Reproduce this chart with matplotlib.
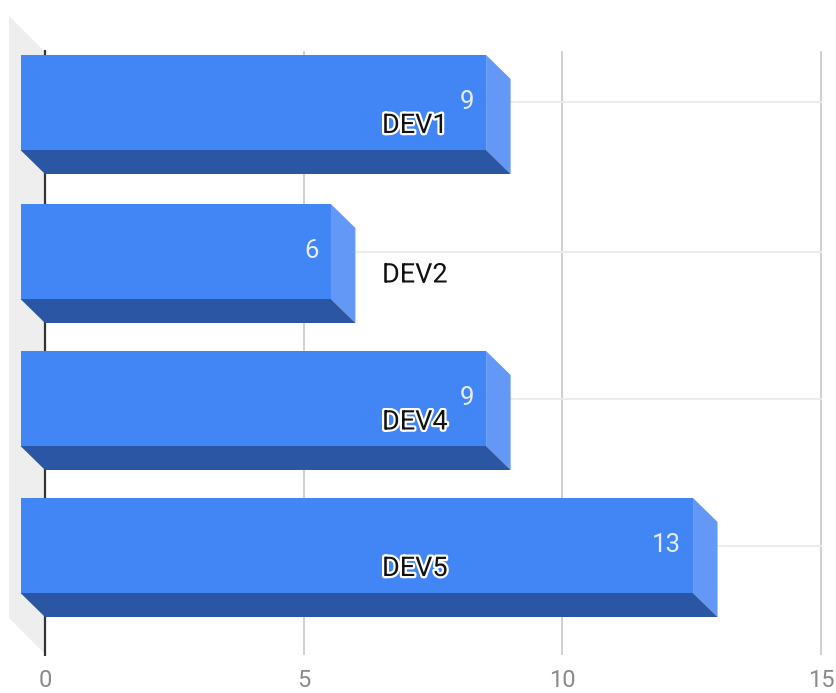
import matplotlib
matplotlib.use("Agg")
import matplotlib.pyplot as plt
import matplotlib.patheffects as pe
from matplotlib.patches import Polygon

categories = ["DEV1", "DEV2", "DEV4", "DEV5"]
values = [9, 6, 9, 13]
xticks = [0, 5, 10, 15]

# layout in pixels (y) -- top edge of each bar's front face
W, H = 837, 693
front_top = [55, 204, 351, 498]
grid_y = [102, 252, 399, 546]
label_y = [125.5, 275, 422, 568.5]
x0_px, x15_px = 45, 821
scale = (x15_px - x0_px) / 15
face_h = 95
dx = 24.5 / scale
dy = 24

plt.rcParams["font.family"] = ["Roboto", "DejaVu Sans"]
fig = plt.figure(figsize=(W / 100, H / 100), dpi=100, facecolor="white")
ax = fig.add_axes([0, 0, 1, 1])
ax.set_xlim(-x0_px / scale, (W - x0_px) / scale)
ax.set_ylim(H, 0)
ax.axis("off")

# back wall
ax.add_patch(Polygon([(-36 / scale, 16), (0, 52), (0, 654), (-36 / scale, 618)],
                     closed=True, fc="#eeeeee", ec="none", zorder=1))
# gridlines
for t in xticks[1:]:
    ax.plot([t, t], [52, 654], color="#cccccc", lw=1.3, zorder=2)
for y in grid_y:
    ax.plot([0, 15], [y, y], color="#ebebeb", lw=1.3, zorder=2)
ax.plot([0, 0], [50, 656], color="#333333", lw=1.6, zorder=2, solid_capstyle="butt")

# bars
for name, v, top, gy, ly in zip(categories, values, front_top, grid_y, label_y):
    bot = top + face_h
    ax.add_patch(Polygon([(v - dx, top), (v, top + dy), (v, bot + dy), (v - dx, bot)],
                         closed=True, fc="#6398f7", ec="none", zorder=3))
    ax.add_patch(Polygon([(-dx, bot), (0, bot + dy), (v, bot + dy), (v - dx, bot)],
                         closed=True, fc="#2a56a4", ec="none", zorder=3))
    ax.add_patch(Polygon([(-dx, top), (v - dx, top), (v - dx, bot), (-dx, bot)],
                         closed=True, fc="#4285f4", ec="none", zorder=4))
    ax.text(v - dx - 12 / scale, top + 47, str(v), color="#e6eefd", fontsize=18.5,
            ha="right", va="center", zorder=5)
    ax.text((382 - x0_px) / scale, ly, name, color="#111111", fontsize=19.5,
            ha="left", va="center", zorder=6,
            path_effects=[pe.withStroke(linewidth=3.2, foreground="white")])

for t in xticks:
    ax.text(t, 680.5, str(t), color="#8a8a8a", fontsize=17, ha="center", va="center", zorder=5)

fig.savefig("out.png", dpi=100, facecolor="white")
